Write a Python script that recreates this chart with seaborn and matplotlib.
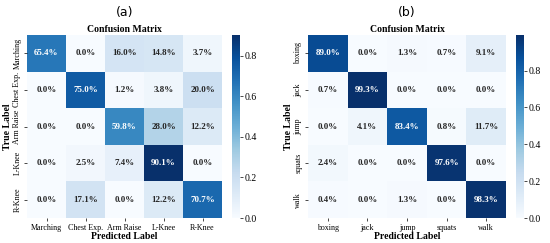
import numpy as np
import pandas as pd
import seaborn as sns
import matplotlib.pyplot as plt

# class labels
labels_a = ['Marching', 'Chest Exp.', 'Arm Raise', 'L-Knee', 'R-Knee']
labels_b = ['boxing', 'jack', 'jump', 'squats', 'walk']

# normalized confusion matrices (rows = true, cols = predicted)
cm_a = [[0.654, 0.000, 0.160, 0.148, 0.037],
        [0.000, 0.750, 0.012, 0.038, 0.200],
        [0.000, 0.000, 0.598, 0.280, 0.122],
        [0.000, 0.025, 0.074, 0.901, 0.000],
        [0.000, 0.171, 0.000, 0.122, 0.707]]
cm_b = [[0.890, 0.000, 0.013, 0.007, 0.091],
        [0.007, 0.993, 0.000, 0.000, 0.000],
        [0.000, 0.041, 0.834, 0.008, 0.117],
        [0.024, 0.000, 0.000, 0.976, 0.000],
        [0.004, 0.000, 0.013, 0.000, 0.983]]

plt.rcParams['font.family'] = ['Liberation Serif', 'DejaVu Serif']

fig = plt.figure(figsize=(5.5, 2.43), dpi=100)
ax_a = fig.add_axes([27/550, 25/243, 195/550, 183/243])
cb_a = fig.add_axes([232/550, 25/243, 8/550, 183/243])
ax_b = fig.add_axes([308/550, 25/243, 198/550, 183/243])
cb_b = fig.add_axes([516/550, 25/243, 8/550, 183/243])

for ax, cax, cm, labels, tag in [(ax_a, cb_a, cm_a, labels_a, '(a)'),
                                 (ax_b, cb_b, cm_b, labels_b, '(b)')]:
    df = pd.DataFrame(cm, index=labels, columns=labels)
    sns.heatmap(df, annot=True, fmt='.1%', cmap='Blues', ax=ax, cbar_ax=cax,
                annot_kws={'fontsize': 6.5, 'fontweight': 'bold'})
    ax.set_title('Confusion Matrix', fontsize=7, fontweight='bold', pad=2)
    ax.set_xlabel('Predicted Label', fontsize=7, fontweight='bold', labelpad=0)
    ax.set_ylabel('True Label', fontsize=7, fontweight='bold', labelpad=1)
    ax.tick_params(axis='both', labelsize=5.8, length=2, width=0.5, pad=2)
    ax.set_xticklabels(labels, rotation=0)
    ax.set_yticklabels(labels, rotation=90, va='center')
    cax.tick_params(labelsize=7, length=2, width=0.5, pad=1)
    cax.yaxis.set_major_locator(plt.MultipleLocator(0.2))
    for s in cax.spines.values():
        s.set_visible(False)
    ax.text(0.5, 1.085, tag, transform=ax.transAxes, ha='center', va='bottom',
            fontsize=9, family='DejaVu Sans')

fig.savefig('out.png', dpi=100)
